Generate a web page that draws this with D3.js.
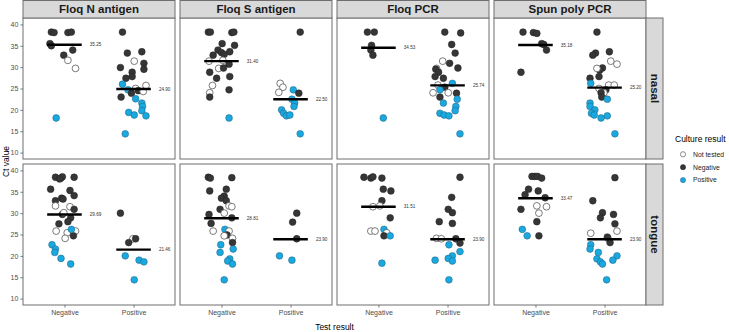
<!DOCTYPE html>
<html>
<head>
<meta charset="utf-8">
<script src="https://cdn.jsdelivr.net/npm/d3@7"></script>
<style>
  body { margin: 0; background: #fff; }
  svg { font-family: "Liberation Sans", Arial, sans-serif; }
</style>
</head>
<body>
<svg id="chart" width="729" height="332"></svg>
<script>
/*
** Data - [test result, jitter (category units), Ct value, culture result]
*/
var NEG = "Negative", POS = "Positive", NT = "Not tested";

var testLevels = [NEG, POS];
var cultureLevels = [NT, NEG, POS];
var methods = ["Floq N antigen", "Floq S antigen", "Floq PCR", "Spun poly PCR"];
var sites = ["nasal", "tongue"];
var yTicks = [10, 15, 20, 25, 30, 35, 40];

var nasalMedians = [[35.25, 24.90], [31.40, 22.50], [34.53, 25.74], [35.18, 25.20]];
var tongueMedians = [[29.69, 21.46], [28.81, 23.90], [31.51, 23.90], [33.47, 23.90]];

var nasalFloqN = [
    [NEG, -0.19, 38.2, NEG], [NEG, -0.15, 38.1, NEG], [NEG, 0.05, 38.1, NEG], [NEG, 0.10, 38.2, NEG]
  , [NEG, -0.21, 35.5, NEG], [NEG, -0.19, 35.0, NEG], [NEG, 0.12, 34.0, NEG], [NEG, -0.01, 32.8, NEG]
  , [NEG, 0.05, 31.6, NT], [NEG, 0.16, 29.7, NT], [NEG, -0.12, 18.1, POS]
  , [POS, -0.16, 38.2, NEG], [POS, -0.09, 33.3, NEG], [POS, 0.12, 33.6, NEG], [POS, 0.01, 31.4, NT]
  , [POS, 0.15, 30.9, NEG], [POS, 0.15, 29.5, NEG], [POS, -0.19, 29.9, NEG], [POS, -0.02, 28.8, NEG]
  , [POS, -0.11, 27.4, NEG], [POS, -0.02, 27.8, NEG], [POS, -0.16, 26.0, POS], [POS, 0.18, 25.7, NT]
  , [POS, 0.03, 25.0, NT], [POS, -0.08, 24.7, POS], [POS, 0.07, 24.5, NEG], [POS, 0.14, 24.3, NT]
  , [POS, -0.03, 23.9, NEG], [POS, -0.18, 23.0, NEG], [POS, 0.03, 22.6, POS], [POS, 0.12, 21.6, POS]
  , [POS, 0.13, 20.8, POS], [POS, 0.12, 19.8, POS], [POS, -0.07, 19.4, POS], [POS, 0.01, 18.8, POS]
  , [POS, 0.18, 18.6, POS], [POS, -0.12, 14.4, POS]
];
var nasalFloqS = [
    [NEG, -0.19, 38.2, NEG], [NEG, -0.16, 38.2, NEG], [NEG, 0.15, 38.1, NEG], [NEG, 0.18, 38.2, NEG]
  , [NEG, 0.01, 35.5, NEG], [NEG, 0.19, 35.1, NEG], [NEG, -0.05, 34.0, NEG], [NEG, 0.00, 33.4, NEG]
  , [NEG, 0.12, 33.6, NEG], [NEG, -0.12, 32.8, NEG], [NEG, 0.04, 33.0, NEG], [NEG, -0.18, 31.4, NT]
  , [NEG, 0.02, 31.6, NT], [NEG, 0.11, 30.7, NEG], [NEG, -0.04, 29.7, NT], [NEG, 0.03, 29.8, NEG]
  , [NEG, -0.17, 28.8, NEG], [NEG, -0.07, 27.4, NEG], [NEG, 0.12, 27.8, NEG], [NEG, -0.13, 25.7, NT]
  , [NEG, -0.17, 24.0, NT], [NEG, 0.11, 24.7, NEG], [NEG, -0.17, 23.0, NEG], [NEG, 0.11, 18.1, POS]
  , [POS, 0.14, 38.2, NEG], [POS, -0.15, 26.2, NT], [POS, -0.11, 25.3, NT], [POS, -0.17, 24.1, NT]
  , [POS, 0.04, 24.7, POS], [POS, 0.12, 23.9, NEG], [POS, 0.02, 22.5, POS], [POS, 0.06, 21.6, POS]
  , [POS, 0.05, 20.8, POS], [POS, -0.13, 20.0, POS], [POS, -0.10, 19.2, POS], [POS, -0.06, 18.6, POS]
  , [POS, -0.01, 18.8, POS], [POS, 0.14, 14.4, POS]
];
var nasalFloqPCR = [
    [NEG, -0.16, 38.2, NEG], [NEG, -0.06, 38.2, NEG], [NEG, -0.10, 35.1, NEG], [NEG, -0.11, 34.0, NEG]
  , [NEG, -0.08, 32.8, NEG], [NEG, 0.07, 18.1, POS]
  , [POS, -0.04, 38.2, NEG], [POS, 0.19, 38.0, NEG], [POS, 0.06, 35.3, NEG], [POS, 0.11, 33.3, NEG]
  , [POS, -0.07, 31.4, NT], [POS, 0.03, 30.9, NEG], [POS, 0.15, 29.8, NEG], [POS, -0.16, 29.7, NT]
  , [POS, -0.17, 29.5, NEG], [POS, -0.13, 28.8, NEG], [POS, -0.18, 27.8, NEG], [POS, -0.06, 27.4, NEG]
  , [POS, 0.07, 26.2, POS], [POS, -0.14, 25.8, NT], [POS, -0.04, 25.3, NEG], [POS, -0.11, 24.7, POS]
  , [POS, -0.21, 24.0, NT], [POS, 0.01, 24.0, NT], [POS, 0.13, 23.9, NEG], [POS, -0.11, 23.0, NEG]
  , [POS, 0.14, 22.5, POS], [POS, -0.06, 21.6, POS], [POS, 0.12, 20.8, POS], [POS, 0.11, 19.8, POS]
  , [POS, -0.11, 19.2, POS], [POS, -0.05, 18.8, POS], [POS, 0.02, 18.6, POS], [POS, 0.18, 14.4, POS]
];
var nasalSpunPCR = [
    [NEG, -0.18, 38.2, NEG], [NEG, -0.03, 38.1, NEG], [NEG, 0.02, 37.9, NEG], [NEG, 0.09, 35.5, NEG]
  , [NEG, 0.12, 35.3, NEG], [NEG, 0.16, 34.0, NEG], [NEG, -0.21, 28.8, NEG]
  , [POS, -0.11, 38.2, NEG], [POS, -0.13, 33.3, NEG], [POS, -0.17, 32.8, NEG], [POS, 0.07, 33.6, NEG]
  , [POS, 0.09, 31.4, NT], [POS, 0.18, 30.7, NT], [POS, -0.03, 29.8, NEG], [POS, -0.07, 29.3, NEG]
  , [POS, -0.11, 29.7, NT], [POS, -0.08, 27.8, NEG], [POS, -0.21, 27.4, NEG], [POS, -0.20, 26.2, POS]
  , [POS, 0.06, 25.8, NT], [POS, 0.14, 25.8, NT], [POS, -0.08, 25.0, NT], [POS, 0.02, 24.7, NEG]
  , [POS, -0.01, 24.0, NT], [POS, -0.05, 24.0, NEG], [POS, -0.04, 23.0, NEG], [POS, 0.04, 22.5, POS]
  , [POS, -0.21, 21.6, POS], [POS, -0.21, 20.8, POS], [POS, -0.14, 20.0, POS], [POS, -0.19, 19.2, POS]
  , [POS, -0.15, 18.8, POS], [POS, 0.04, 18.6, POS], [POS, -0.05, 18.1, POS], [POS, 0.15, 14.4, POS]
];
var tongueFloqN = [
    [NEG, -0.13, 38.4, NEG], [NEG, -0.05, 38.2, NEG], [NEG, -0.03, 38.5, NEG], [NEG, -0.07, 38.0, NEG]
  , [NEG, 0.14, 38.4, NEG], [NEG, -0.20, 35.6, NEG], [NEG, 0.08, 35.3, NEG], [NEG, 0.14, 34.1, NEG]
  , [NEG, -0.04, 33.5, NEG], [NEG, -0.02, 33.3, NEG], [NEG, -0.13, 32.9, NEG], [NEG, -0.13, 31.7, NT]
  , [NEG, 0.08, 31.5, NT], [NEG, 0.14, 30.9, NEG], [NEG, -0.03, 29.7, NEG], [NEG, -0.01, 30.1, NT]
  , [NEG, 0.09, 28.9, NEG], [NEG, 0.05, 28.0, NEG], [NEG, -0.08, 27.5, NEG], [NEG, -0.12, 25.8, NT]
  , [NEG, 0.04, 25.4, NT], [NEG, 0.16, 25.8, NT], [NEG, 0.01, 24.1, NT], [NEG, 0.13, 24.7, NEG]
  , [NEG, 0.10, 26.2, POS], [NEG, -0.18, 22.6, POS], [NEG, -0.13, 21.6, POS], [NEG, -0.14, 20.8, POS]
  , [NEG, -0.05, 19.4, POS], [NEG, 0.09, 18.1, POS]
  , [POS, -0.19, 30.0, NEG], [POS, -0.01, 24.0, NT], [POS, 0.03, 24.0, NEG], [POS, -0.07, 23.1, NEG]
  , [POS, -0.12, 20.0, POS], [POS, 0.08, 19.0, POS], [POS, 0.15, 18.6, POS], [POS, 0.01, 14.4, POS]
];
var tongueFloqS = [
    [NEG, -0.19, 38.4, NEG], [NEG, -0.16, 38.2, NEG], [NEG, 0.15, 38.3, NEG], [NEG, -0.17, 35.2, NEG]
  , [NEG, 0.07, 35.6, NEG], [NEG, 0.04, 34.0, NEG], [NEG, 0.00, 33.5, NEG], [NEG, 0.07, 32.9, NEG]
  , [NEG, 0.11, 31.7, NT], [NEG, 0.15, 31.5, NT], [NEG, -0.02, 30.9, NEG], [NEG, 0.04, 30.0, NT]
  , [NEG, -0.18, 29.7, NEG], [NEG, 0.15, 28.9, NEG], [NEG, -0.15, 27.6, NEG], [NEG, -0.12, 25.8, NT]
  , [NEG, 0.05, 26.2, POS], [NEG, 0.11, 25.8, NT], [NEG, 0.08, 24.9, NEG], [NEG, 0.04, 24.7, NT]
  , [NEG, 0.16, 24.1, NT], [NEG, -0.01, 22.6, POS], [NEG, 0.16, 23.1, NEG], [NEG, 0.17, 21.6, POS]
  , [NEG, -0.02, 20.8, POS], [NEG, 0.12, 19.3, POS], [NEG, 0.09, 18.8, POS], [NEG, 0.16, 18.1, POS]
  , [NEG, 0.04, 14.4, POS]
  , [POS, 0.09, 30.0, NEG], [POS, 0.03, 27.9, NEG], [POS, 0.09, 24.0, NEG], [POS, -0.16, 20.0, POS]
  , [POS, 0.02, 19.0, POS]
];
var tongueFloqPCR = [
    [NEG, -0.21, 38.4, NEG], [NEG, -0.11, 38.2, NEG], [NEG, -0.08, 38.5, NEG], [NEG, 0.05, 38.2, NEG]
  , [NEG, 0.07, 35.6, NEG], [NEG, 0.18, 35.2, NEG], [NEG, 0.05, 32.9, NEG], [NEG, -0.08, 31.5, NT]
  , [NEG, 0.02, 31.7, NT], [NEG, 0.17, 28.9, NEG], [NEG, -0.11, 25.8, NT], [NEG, -0.05, 25.8, NT]
  , [NEG, 0.08, 26.2, POS], [NEG, 0.12, 25.4, NT], [NEG, 0.08, 24.7, NEG], [NEG, 0.17, 24.7, POS]
  , [NEG, 0.05, 18.3, POS]
  , [POS, 0.18, 38.4, NEG], [POS, 0.06, 33.7, NEG], [POS, 0.01, 30.9, NEG], [POS, 0.07, 30.1, NEG]
  , [POS, -0.12, 28.0, NEG], [POS, 0.07, 27.6, NEG], [POS, -0.16, 24.1, NT], [POS, -0.09, 24.0, NT]
  , [POS, 0.12, 24.0, NEG], [POS, 0.18, 23.0, NEG], [POS, 0.02, 22.6, POS], [POS, 0.18, 21.0, POS]
  , [POS, 0.07, 20.0, POS], [POS, -0.18, 19.0, POS], [POS, 0.01, 19.4, POS], [POS, 0.07, 18.8, POS]
  , [POS, 0.02, 14.4, POS]
];
var tongueSpunPCR = [
    [NEG, -0.05, 38.6, NEG], [NEG, -0.01, 38.6, NEG], [NEG, 0.03, 38.6, NEG], [NEG, 0.09, 38.2, NEG]
  , [NEG, -0.10, 35.6, NEG], [NEG, -0.15, 34.3, NEG], [NEG, 0.04, 35.2, NEG], [NEG, 0.14, 33.6, NEG]
  , [NEG, -0.21, 30.9, NEG], [NEG, 0.02, 31.7, NT], [NEG, 0.16, 31.5, NT], [NEG, 0.05, 30.0, NT]
  , [NEG, 0.02, 28.0, NEG], [NEG, 0.05, 24.7, NEG], [NEG, -0.19, 26.2, POS], [NEG, -0.12, 24.7, POS]
  , [POS, 0.15, 38.3, NEG], [POS, -0.17, 32.9, NEG], [POS, -0.03, 30.1, NEG], [POS, -0.06, 28.9, NEG]
  , [POS, 0.13, 29.7, NEG], [POS, 0.15, 27.5, NEG], [POS, 0.18, 25.8, NT], [POS, -0.20, 25.3, NT]
  , [POS, 0.05, 24.1, NT], [POS, 0.04, 24.4, NEG], [POS, 0.08, 23.1, NEG], [POS, -0.20, 22.6, POS]
  , [POS, -0.21, 21.6, POS], [POS, -0.09, 20.8, POS], [POS, 0.18, 20.0, POS], [POS, 0.12, 19.0, POS]
  , [POS, -0.11, 19.3, POS], [POS, -0.06, 18.6, POS], [POS, -0.03, 18.1, POS], [POS, 0.03, 14.4, POS]
];

var panelData = {
    nasal: [nasalFloqN, nasalFloqS, nasalFloqPCR, nasalSpunPCR]
  , tongue: [tongueFloqN, tongueFloqS, tongueFloqPCR, tongueSpunPCR]
};
var medianData = { nasal: nasalMedians, tongue: tongueMedians };

/*
** Layout
*/
var svg = d3.select("#chart")
  , marginLeft = 23
  , marginTop = 18
  , panelW = 152
  , panelH = 141
  , gap = 5
  , stripH = 18
  , stripW = 17
  , borderColor = "#6e6e6e"
  , textColor = "#4d4d4d"
;

var x = d3.scaleLinear().domain([0.4, 2.6]).range([0, panelW]);
var y = d3.scaleLinear().domain([8.5, 41.5]).range([panelH, 0]);
var fill = d3.scaleOrdinal().domain(cultureLevels).range(["#ffffff", "#363636", "#19a8e0"]);
var stroke = d3.scaleOrdinal().domain(cultureLevels).range(["#5a5a5a", "#222222", "#24617c"]);
var fmt = d3.format(".2f");

function xPos(d) { return x(testLevels.indexOf(d[0]) + 1 + d[1]); }

sites.forEach(function(site, ri) {
    methods.forEach(function(method, ci) {
        var g = svg.append("g")
            .attr("transform", "translate(" + (marginLeft + ci * (panelW + gap)) + ","
                + (marginTop + ri * (panelH + gap)) + ")")
        ;
        g.append("rect")
            .attr("width", panelW).attr("height", panelH)
            .attr("fill", "#fff").attr("stroke", borderColor).attr("stroke-width", 1)
        ;

        // points
        g.selectAll("circle.pt")
            .data(panelData[site][ci])
          .enter().append("circle")
            .attr("class", "pt")
            .attr("cx", xPos)
            .attr("cy", function(d) { return y(d[2]); })
            .attr("r", 3.4)
            .attr("fill", function(d) { return fill(d[3]); })
            .attr("stroke", function(d) { return stroke(d[3]); })
            .attr("stroke-width", function(d) { return d[3] === NT ? 0.8 : 0.5; })
        ;

        // median bars + labels
        var med = medianData[site][ci].map(function(m, i) { return { t: i + 1, v: m }; });
        g.selectAll("line.med")
            .data(med)
          .enter().append("line")
            .attr("x1", function(d) { return x(d.t - 0.25); })
            .attr("x2", function(d) { return x(d.t + 0.25); })
            .attr("y1", function(d) { return y(d.v); })
            .attr("y2", function(d) { return y(d.v); })
            .attr("stroke", "#000").attr("stroke-width", 2.4)
        ;
        g.selectAll("text.med")
            .data(med)
          .enter().append("text")
            .attr("x", function(d) { return x(d.t + 0.45); })
            .attr("y", function(d) { return y(d.v); })
            .attr("dy", "0.35em")
            .attr("text-anchor", "middle")
            .attr("font-size", 4.6)
            .attr("fill", "#333")
            .text(function(d) { return fmt(d.v); })
        ;

        // axes
        if (ci === 0) {
            var ya = g.append("g")
                .call(d3.axisLeft(y).tickValues(yTicks).tickSize(2.7).tickPadding(2))
            ;
            ya.select(".domain").remove();
            ya.selectAll("line").attr("stroke", "#333").attr("stroke-width", 0.6);
            ya.selectAll("text").attr("fill", textColor).attr("font-size", 7)
                .attr("font-family", "Liberation Sans, Arial, sans-serif");
        }
        if (ri === sites.length - 1) {
            var xa = g.append("g")
                .attr("transform", "translate(0," + panelH + ")")
                .call(d3.axisBottom(x).tickValues([1, 2])
                    .tickFormat(function(d) { return testLevels[d - 1]; })
                    .tickSize(2.7).tickPadding(2))
            ;
            xa.select(".domain").remove();
            xa.selectAll("line").attr("stroke", "#333").attr("stroke-width", 0.6);
            xa.selectAll("text").attr("fill", textColor).attr("font-size", 7)
                .attr("font-family", "Liberation Sans, Arial, sans-serif");
        }

        // top strips
        if (ri === 0) {
            var s = svg.append("g")
                .attr("transform", "translate(" + (marginLeft + ci * (panelW + gap)) + ",0)");
            s.append("rect")
                .attr("x", 0).attr("y", 0.5).attr("width", panelW).attr("height", stripH - 0.5)
                .attr("fill", "#d9d9d9").attr("stroke", borderColor).attr("stroke-width", 1)
            ;
            s.append("text")
                .attr("x", panelW / 2).attr("y", stripH / 2 + 4)
                .attr("text-anchor", "middle")
                .attr("font-size", 11.5).attr("font-weight", "bold").attr("fill", "#1a1a1a")
                .text(method)
            ;
        }
    });

    // right strips
    var rx = marginLeft + methods.length * panelW + (methods.length - 1) * gap
      , ry = marginTop + ri * (panelH + gap)
    ;
    svg.append("rect")
        .attr("x", rx).attr("y", ry).attr("width", stripW).attr("height", panelH)
        .attr("fill", "#d9d9d9").attr("stroke", borderColor).attr("stroke-width", 1)
    ;
    svg.append("text")
        .attr("transform", "translate(" + (rx + stripW / 2 - 4) + "," + (ry + panelH / 2) + ") rotate(90)")
        .attr("text-anchor", "middle")
        .attr("font-size", 11.5).attr("font-weight", "bold").attr("fill", "#1a1a1a")
        .text(site)
    ;
});

/*
** Axis titles
*/
svg.append("text")
    .attr("transform", "translate(9," + (marginTop + panelH + gap / 2) + ") rotate(-90)")
    .attr("text-anchor", "middle")
    .attr("font-size", 8.5).attr("fill", "#000")
    .text("Ct value")
;
svg.append("text")
    .attr("x", marginLeft + (4 * panelW + 3 * gap) / 2).attr("y", 330)
    .attr("text-anchor", "middle")
    .attr("font-size", 8.5).attr("fill", "#000")
    .text("Test result")
;

/*
** Legend
*/
var legend = svg.append("g").attr("transform", "translate(675,0)");
legend.append("text")
    .attr("x", 0).attr("y", 142)
    .attr("font-size", 8.5).attr("fill", "#000")
    .text("Culture result")
;
var items = legend.selectAll("g.item")
    .data(cultureLevels)
  .enter().append("g")
    .attr("transform", function(d, i) { return "translate(0," + (154.3 + i * 12.9) + ")"; })
;
items.append("circle")
    .attr("cx", 8).attr("cy", 0).attr("r", 2.6)
    .attr("fill", function(d) { return fill(d); })
    .attr("stroke", function(d) { return stroke(d); })
    .attr("stroke-width", function(d) { return d === NT ? 0.7 : 0.5; })
;
items.append("text")
    .attr("x", 18).attr("y", 0).attr("dy", "0.35em")
    .attr("font-size", 6.8).attr("fill", "#222")
    .text(function(d) { return d; })
;
</script>
</body>
</html>
